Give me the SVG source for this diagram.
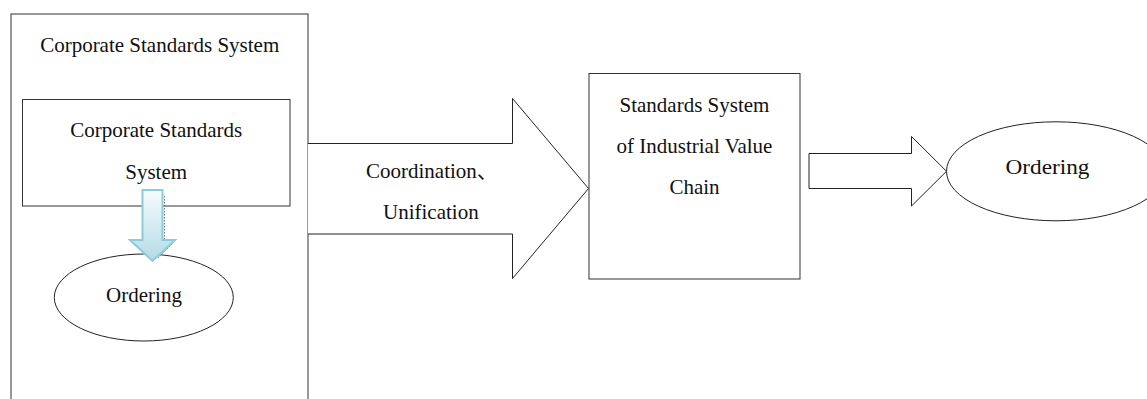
<svg xmlns="http://www.w3.org/2000/svg" width="1147" height="399" viewBox="0 0 1147 399">
  <style>
    .box { fill: #ffffff; stroke: #333333; stroke-width: 1; }
    .shape { fill: #ffffff; stroke: #222222; stroke-width: 1; }
    .mid { text-anchor: middle; }
  </style>
  <defs>
    <linearGradient id="blueFill" x1="0" y1="0" x2="0" y2="1">
      <stop offset="0" stop-color="#f7fbfd"/>
      <stop offset="1" stop-color="#b3dbe6"/>
    </linearGradient>
  </defs>

  <rect width="1147" height="399" fill="#ffffff"/>

  <g font-family="'Liberation Serif', 'Times New Roman', Times, serif" font-size="21" fill="#111111">
    <!-- enterprise container -->
    <g id="corporate-system">
      <rect class="box" x="11" y="14" width="297" height="400"/>
      <text class="mid" x="159.7" y="52">Corporate Standards System</text>
    </g>

    <g id="inner-system">
      <rect class="box" x="22.5" y="99.5" width="267.5" height="106.5"/>
      <text class="mid" x="156.2" y="137">Corporate Standards</text>
      <text class="mid" x="156.2" y="179">System</text>
    </g>

    <g id="inner-ordering">
      <ellipse class="shape" cx="143.8" cy="297.5" rx="89.5" ry="43.5"/>
      <text class="mid" x="144" y="301.5">Ordering</text>
    </g>

    <g id="value-chain">
      <rect class="box" x="589" y="73.5" width="211" height="205.5"/>
      <text class="mid" x="694.5" y="112">Standards System</text>
      <text class="mid" x="694.5" y="153">of Industrial Value</text>
      <text class="mid" x="694.5" y="194">Chain</text>
    </g>

    <g id="outer-ordering">
      <ellipse class="shape" cx="1056" cy="171.3" rx="109.5" ry="49.5"/>
      <text class="mid" x="1047.5" y="174" textLength="84" lengthAdjust="spacingAndGlyphs">Ordering</text>
    </g>

    <!-- connectors -->
    <g id="connectors">
      <!-- block arrow leaving the enterprise container -->
      <path class="shape" d="M308,143.5 H512.5 V98.5 L588.5,188.5 L512.5,278.5 V234 H308"/>
      <text x="366" y="177.5">Coordination<tspan font-family="'Noto Sans CJK SC', sans-serif">、</tspan></text>
      <text x="383" y="218.5">Unification</text>

      <!-- block arrow towards the outer ordering -->
      <path class="shape" d="M809,153.5 H911.5 V136.5 L946.5,171.3 L911.5,206 V188.5 H809 Z"/>

      <!-- downward shaded arrow inside the enterprise -->
      <path d="M164.5,196 V240 M172,244 L158,258" fill="none" stroke="#6f7f86" stroke-width="1" stroke-dasharray="1.5 1.5"/>
      <path d="M142.5,190 H162.5 V240 H175 L152.5,261 L130,240 H142.5 Z" fill="url(#blueFill)" stroke="#8ccbd9" stroke-width="2"/>
    </g>
  </g>
</svg>
